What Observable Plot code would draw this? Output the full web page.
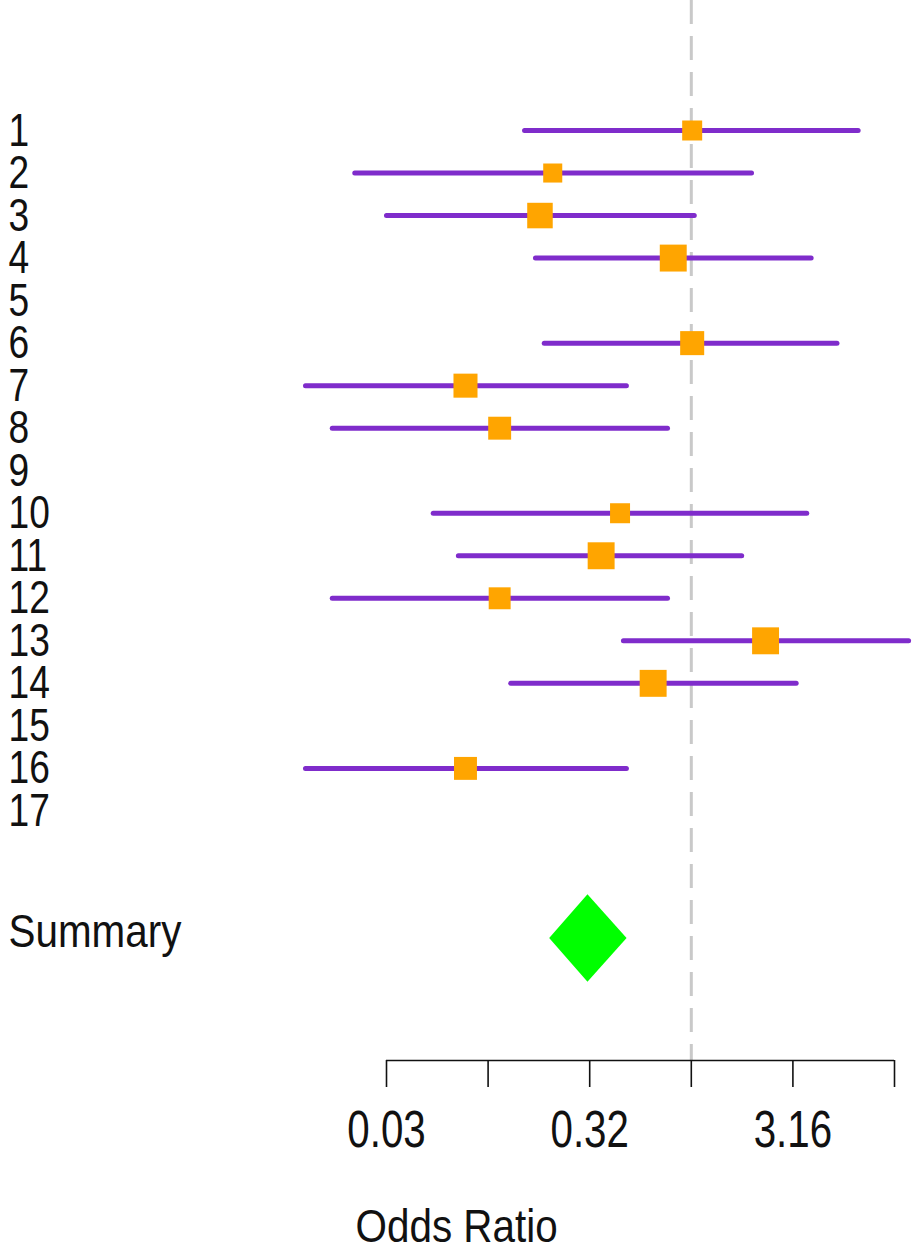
<!DOCTYPE html>
<html>
<head>
<meta charset="utf-8">
<script src="https://cdn.jsdelivr.net/npm/d3@7"></script>
<script src="https://cdn.jsdelivr.net/npm/@observablehq/plot@0.6"></script>
<style>
  html, body { margin: 0; padding: 0; background: #ffffff; }
  #chart svg { display: block; }
</style>
</head>
<body>
<div id="chart"></div>
<script>
// ---- data ----
const studies   = ["1","2","3","4","5","6","7","8","9","10","11","12","13","14","15","16","17"];
const oddsRatio = [1.01, 0.208, 0.180, 0.815, null, 1.01, 0.0774, 0.114, null, 0.446, 0.360, 0.114, 2.32, 0.649, null, 0.0774, null];
const lowerCI   = [0.152, 0.0222, 0.0318, 0.172, null, 0.190, 0.0127, 0.0172, null, 0.0540, 0.0718, 0.0172, 0.466, 0.130, null, 0.0127, null];
const upperCI   = [6.66, 1.99, 1.04, 3.91, null, 5.24, 0.482, 0.768, null, 3.72, 1.78, 0.768, 11.8, 3.30, null, 0.482, null];
const weightPct = [5.4, 4.9, 8.8, 9.8, null, 7.8, 7.8, 7.1, null, 5.4, 9.8, 6.5, 9.8, 9.8, null, 7.1, null];

const summaryLabel = "Summary";
const summaryOR    = 0.310;
const summaryLower = 0.201;
const summaryUpper = 0.483;

const tickValues = [10 ** -1.5, 10 ** -1, 10 ** -0.5, 1, 10 ** 0.5, 10];
const tickLabels = ["0.03", "", "0.32", "", "3.16", ""];
const xLabel = "Odds Ratio";

// ---- tables built from the arrays ----
const rows = studies.map((s, i) => ({
  label: s, pos: i + 1,
  or: oddsRatio[i], lo: lowerCI[i], hi: upperCI[i], w: weightPct[i]
}));
const withData = rows.filter(d => d.or != null);
const summaryPos = studies.length + 3;
const diamondHalf = 1.03; // in row units
const diamond = [
  {x: summaryLower, y1: summaryPos, y2: summaryPos},
  {x: summaryOR, y1: summaryPos - diamondHalf, y2: summaryPos + diamondHalf},
  {x: summaryUpper, y1: summaryPos, y2: summaryPos}
];
const ticks = tickValues.map((v, i) => ({v, label: tickLabels[i]}));

const FONT = "'Liberation Sans', Arial, Helvetica, sans-serif";
const fs = 47;
const ink = "#111";

const chart = Plot.plot({
  width: 912,
  height: 1253,
  marginTop: 0,
  marginLeft: 0,
  marginRight: 0,
  marginBottom: 193,
  style: {fontFamily: FONT, fontSize: fs + "px", color: ink, background: "#ffffff"},
  x: {type: "log", domain: [tickValues[0], tickValues[tickValues.length - 1]], range: [386, 894], axis: null},
  y: {type: "linear", domain: [1, summaryPos], range: [130, 938], axis: null},
  r: {type: "sqrt", domain: [0, d3.max(weightPct)], range: [0, 15.2]},
  marks: [
    // null-effect reference line
    Plot.ruleX([1], {stroke: "#c9c9c9", strokeWidth: 3, strokeDasharray: "24,12"}),
    // confidence intervals
    Plot.ruleY(withData, {y: "pos", x1: "lo", x2: "hi", stroke: "#7f2ccb", strokeWidth: 5, strokeLinecap: "round"}),
    // point estimates
    Plot.dot(withData, {x: "or", y: "pos", r: "w", symbol: "square", fill: "#ffa500", stroke: null}),
    // summary diamond
    Plot.areaY(diamond, {x: "x", y1: "y1", y2: "y2", fill: "#00ff00", curve: "linear"}),
    // row labels
    Plot.text(rows, {y: "pos", text: "label", frameAnchor: "left", dx: 8, textAnchor: "start", lineAnchor: "middle", fontSize: fs, fill: ink}),
    Plot.text([summaryLabel], {y: summaryPos, text: d => d, frameAnchor: "left", dx: 8, dy: -7, textAnchor: "start", lineAnchor: "middle", fontSize: fs, fill: ink}),
    // x axis: line, ticks, labels, title
    Plot.ruleY([summaryPos], {x1: tickValues[0], x2: tickValues[tickValues.length - 1], dy: 122, stroke: ink, strokeWidth: 1.6}),
    Plot.ruleX(ticks, {x: "v", y1: summaryPos, y2: summaryPos, dy: 122, insetBottom: -27, stroke: ink, strokeWidth: 1.6}),
    Plot.text(ticks, {x: "v", text: "label", frameAnchor: "bottom", dy: 70, textAnchor: "middle", lineAnchor: "middle", fontSize: 51, fill: ink}),
    Plot.text([xLabel], {text: d => d, frameAnchor: "bottom-left", dx: 355, dy: 166, textAnchor: "start", lineAnchor: "middle", fontSize: fs, fill: ink})
  ]
});

// horizontally condense the text, like the reference
chart.querySelectorAll("text").forEach(t => {
  const s = /^[0-9.]+$/.test(t.textContent.trim()) ? 0.79 : 0.86;
  const tr = t.getAttribute("transform");
  if (tr) {
    t.setAttribute("transform", tr + ` scale(${s},1)`);
  } else {
    const x = +(t.getAttribute("x") || 0), y = +(t.getAttribute("y") || 0);
    t.removeAttribute("x"); t.removeAttribute("y");
    t.setAttribute("transform", `translate(${x},${y}) scale(${s},1)`);
  }
});

document.getElementById("chart").appendChild(chart);
</script>
</body>
</html>
